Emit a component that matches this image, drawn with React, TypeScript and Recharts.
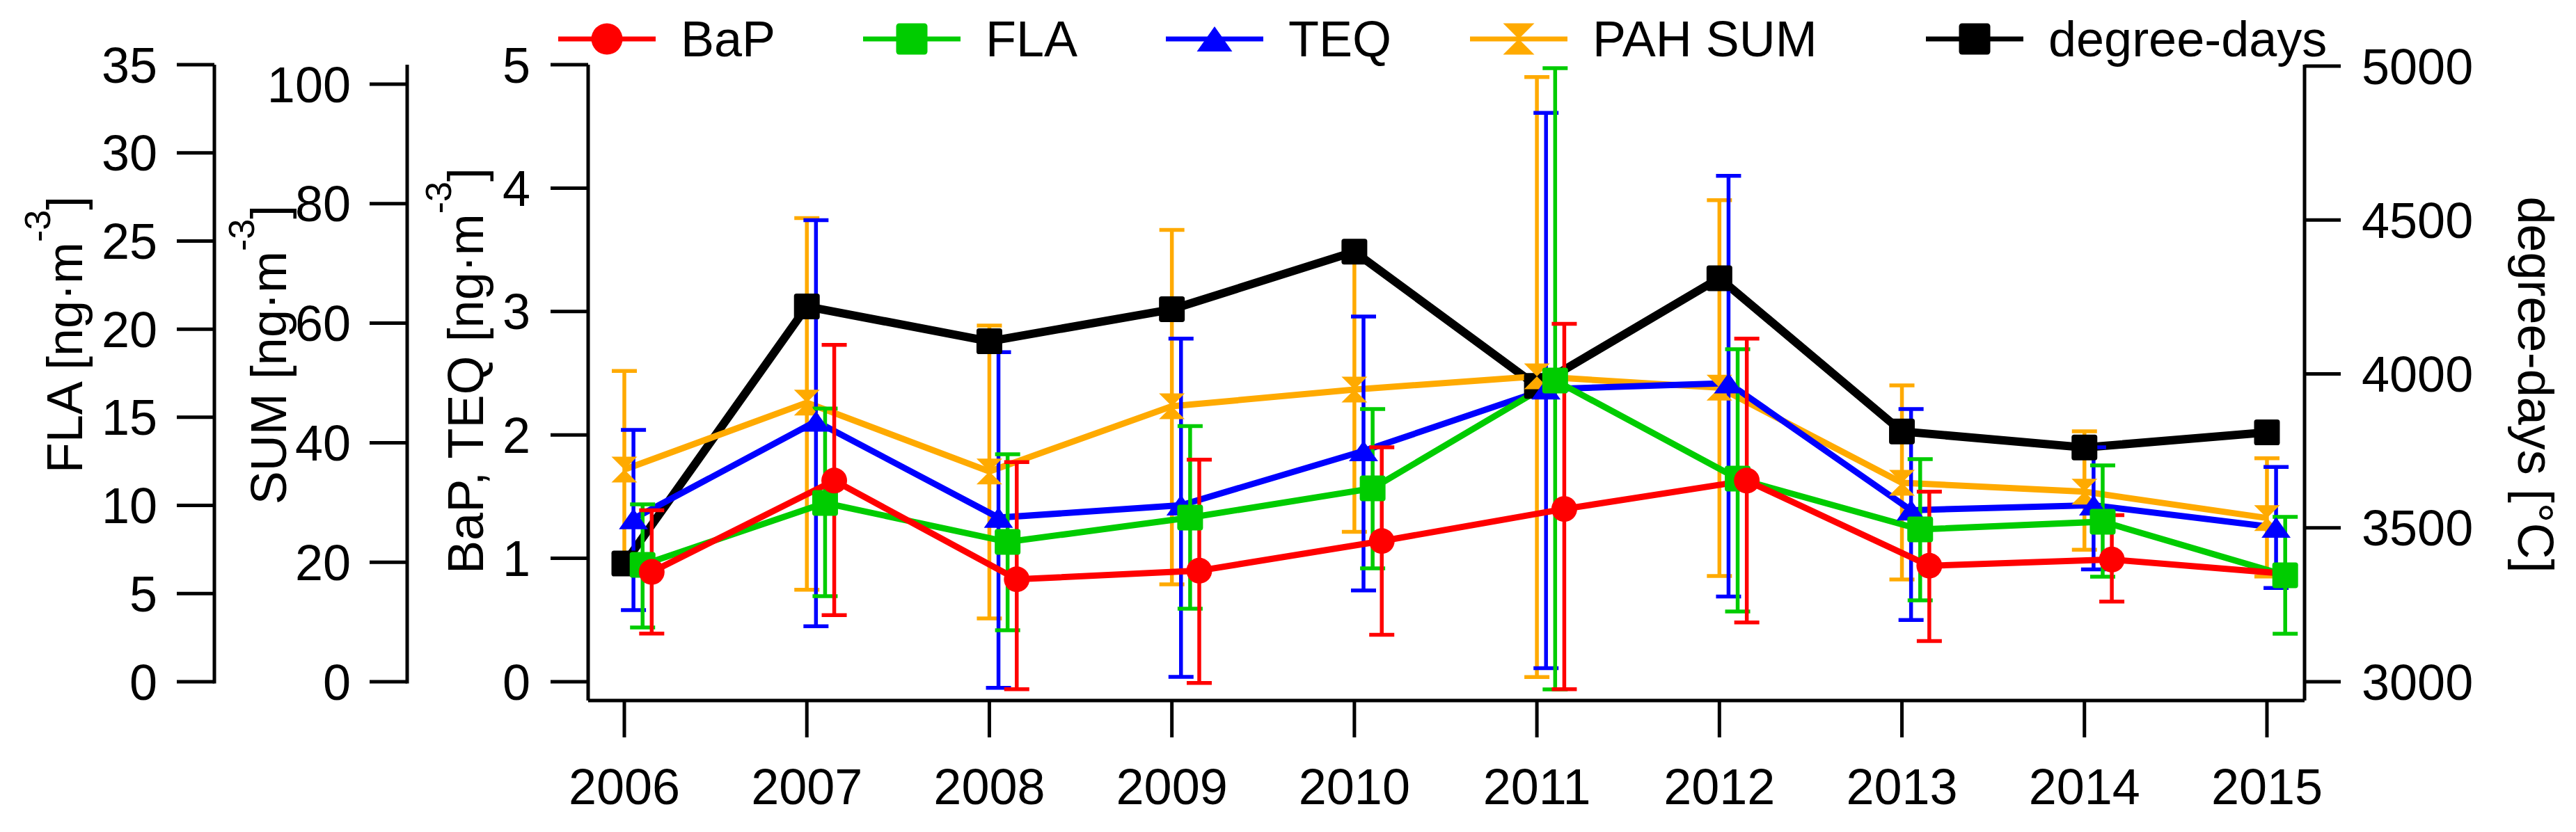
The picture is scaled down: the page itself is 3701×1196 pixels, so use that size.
import React from 'react';
import { ComposedChart, Line, XAxis, YAxis, ErrorBar } from 'recharts';

const W = 3701;
const H = 1196;
const PLOT_TOP = 93;
const FONT = '"Liberation Sans", Arial, sans-serif';

// categories
const years = [2006, 2007, 2008, 2009, 2010, 2011, 2012, 2013, 2014, 2015];

// BaP [ng/m3]: mean and error bar ends (last year has no bar)
const bapMean = [0.89, 1.63, 0.83, 0.9, 1.14, 1.4, 1.63, 0.94, 0.99, 0.87];
const bapLow = [0.39, 0.54, -0.06, -0.01, 0.38, -0.06, 0.48, 0.33, 0.65, null];
const bapHigh = [1.39, 2.73, 1.78, 1.8, 1.9, 2.9, 2.78, 1.54, 1.35, null];

// FLA [ng/m3]
const flaMean = [6.63, 10.14, 7.93, 9.31, 10.97, 17.09, 11.52, 8.64, 9.08, 6.04];
const flaLow = [3.08, 4.85, 2.92, 4.14, 6.43, -0.43, 3.99, 4.62, 5.96, 2.72];
const flaHigh = [10.06, 15.5, 12.9, 14.5, 15.47, 34.8, 18.86, 12.63, 12.27, 9.35];

// TEQ [ng/m3]
const teqMean = [1.32, 2.11, 1.33, 1.43, 1.87, 2.37, 2.42, 1.39, 1.43, 1.25];
const teqLow = [0.58, 0.45, -0.05, 0.04, 0.74, 0.11, 0.69, 0.5, 0.91, 0.76];
const teqHigh = [2.04, 3.74, 2.67, 2.78, 2.96, 4.61, 4.1, 2.21, 1.9, 1.74];

// PAH SUM [ng/m3]
const sumMean = [35.5, 46.7, 35.2, 46.1, 48.9, 51.1, 49.2, 33.3, 31.8, 27.4];
const sumLow = [19.2, 15.4, 10.6, 16.3, 25.1, 0.8, 17.7, 17.1, 22.1, 17.6];
const sumHigh = [52.0, 77.6, 59.6, 75.6, 72.8, 101.2, 80.6, 49.6, 41.9, 37.4];

// degree-days [°C]
const degreeDays = [3384, 4219, 4106, 4210, 4397, 3961, 4311, 3813, 3761, 3810];

// tick labels
const flaTicks = [0, 5, 10, 15, 20, 25, 30, 35];
const sumTicks = [0, 20, 40, 60, 80, 100];
const bapTicks = [0, 1, 2, 3, 4, 5];
const ddTicks = [3000, 3500, 4000, 4500, 5000];

type MarkerKind = 'circle' | 'square' | 'triangle' | 'hourglass';

interface SeriesDef {
  key: string;
  name: string;
  color: string;
  marker: MarkerKind;
  axis: string;
  shift: number;
  lineWidth: number;
  mean: number[];
  low?: (number | null)[];
  high?: (number | null)[];
}

// left axes get stacked outward from the plot in id order: L1 (BaP/TEQ), L2 (SUM), L3 (FLA)
const series: SeriesDef[] = [
  { key: 'dd', name: 'degree-days', color: '#000000', marker: 'square', axis: 'R1', shift: 0, lineWidth: 12, mean: degreeDays },
  { key: 'sum', name: 'PAH SUM', color: '#FFAA00', marker: 'hourglass', axis: 'L2', shift: 0, lineWidth: 9, mean: sumMean, low: sumLow, high: sumHigh },
  { key: 'teq', name: 'TEQ', color: '#0000FF', marker: 'triangle', axis: 'L1', shift: 0.05, lineWidth: 9, mean: teqMean, low: teqLow, high: teqHigh },
  { key: 'fla', name: 'FLA', color: '#00CC00', marker: 'square', axis: 'L3', shift: 0.1, lineWidth: 9, mean: flaMean, low: flaLow, high: flaHigh },
  { key: 'bap', name: 'BaP', color: '#FF0000', marker: 'circle', axis: 'L1', shift: 0.15, lineWidth: 9, mean: bapMean, low: bapLow, high: bapHigh },
];

const legendOrder = ['bap', 'fla', 'teq', 'sum', 'dd'];
const legendX = [802, 1240, 1675, 2112, 2767];

function buildData(s: SeriesDef) {
  return years.map((yr, i) => {
    const row: any = { x: yr + s.shift, v: s.mean[i] };
    if (s.low && s.high) {
      const lo = s.low[i];
      const hi = s.high[i];
      row.hasErr = lo != null && hi != null;
      if (row.hasErr) row.err = [s.mean[i] - (lo as number), (hi as number) - s.mean[i]];
    } else {
      row.hasErr = true;
    }
    return row;
  });
}

function Marker({ kind, cx, cy, color, size }: { kind: MarkerKind; cx: number; cy: number; color: string; size: number }) {
  const h = size / 2;
  if (kind === 'circle') return <circle cx={cx} cy={cy} r={h} fill={color} />;
  if (kind === 'square')
    return <rect x={cx - h} y={cy - h} width={size} height={size} rx={size * 0.1} fill={color} />;
  if (kind === 'triangle')
    return (
      <polygon
        points={`${cx},${cy - h * 0.8} ${cx + h * 1.13},${cy + h * 0.8} ${cx - h * 1.13},${cy + h * 0.8}`}
        fill={color}
      />
    );
  return (
    <path
      d={`M${cx - h},${cy - h} L${cx + h},${cy - h} L${cx - h},${cy + h} L${cx + h},${cy + h} Z`}
      fill={color}
    />
  );
}

const axisStroke = { stroke: '#000', strokeWidth: 5 };
const tickText = { fontSize: 72, fill: '#000', fontFamily: FONT };

// left tick that also draws the axis spine from the plot top down to zero
function makeLeftTick(tickSize: number, tickMargin: number) {
  return (props: any) => {
    const { x, y, payload } = props;
    const ax = x + tickMargin + tickSize;
    return (
      <g>
        <text x={x} y={y} dy="0.355em" textAnchor="end" fontSize={72} fontFamily={FONT} fill="#000">
          {payload.value}
        </text>
        {payload.value === 0 && (
          <line x1={ax} x2={ax} y1={PLOT_TOP} y2={y + 2.5} stroke="#000" strokeWidth={5} />
        )}
      </g>
    );
  };
}

function AxisTitle({ x, y, angle, main, sup, tail }: { x: number; y: number; angle: number; main: string; sup?: string; tail?: string }) {
  return (
    <text transform={`translate(${x},${y}) rotate(${angle})`} textAnchor="middle" fontSize={72} fontFamily={FONT} fill="#000">
      {main}
      {sup && (
        <tspan fontSize={52} dy={-46}>
          {sup}
        </tspan>
      )}
      {tail && (
        <tspan fontSize={72} dy={sup ? 46 : 0}>
          {tail}
        </tspan>
      )}
    </text>
  );
}

function Overlay() {
  return (
    <svg width={W} height={H} style={{ position: 'absolute', left: 0, top: 0, pointerEvents: 'none' }}>
      <AxisTitle x={118} y={481} angle={-90} main="FLA [ng·m" sup="-3" tail="]" />
      <AxisTitle x={411} y={510} angle={-90} main="SUM [ng·m" sup="-3" tail="]" />
      <AxisTitle x={694} y={533} angle={-90} main="BaP, TEQ [ng·m" sup="-3" tail="]" />
      <AxisTitle x={3618} y={553} angle={90} main="degree-days [°C]" />
      {legendOrder.map((k, i) => {
        const s = series.find(d => d.key === k)!;
        const x0 = legendX[i];
        return (
          <g key={k}>
            <line x1={x0} x2={x0 + 140} y1={56} y2={56} stroke={s.color} strokeWidth={7} />
            <Marker kind={s.marker} cx={x0 + 70} cy={56} color={s.color} size={45} />
            <text x={x0 + 176} y={55} dy="0.355em" fontSize={72} fontFamily={FONT} fill="#000">
              {s.name}
            </text>
          </g>
        );
      })}
    </svg>
  );
}

export default function App() {
  return (
    <div style={{ position: 'absolute', left: 0, top: 0, width: W, height: H, background: '#fff' }}>
      <ComposedChart width={W} height={H} margin={{ top: PLOT_TOP, right: 0, bottom: 0, left: 0 }}>
        <XAxis
          type="number"
          dataKey="x"
          domain={[2005.8017, 2015.206]}
          ticks={years}
          interval={0}
          allowDataOverflow
          height={189}
          tickSize={53}
          tickMargin={45}
          axisLine={axisStroke}
          tickLine={axisStroke}
          tick={tickText}
        />
        <YAxis
          yAxisId="L1"
          orientation="left"
          width={260}
          domain={[-0.1522, 5]}
          ticks={bapTicks}
          interval={0}
          allowDataOverflow
          axisLine={axisStroke}
          tickLine={axisStroke}
          tickSize={54}
          tickMargin={29}
          tick={tickText}
        />
        <YAxis
          yAxisId="L2"
          orientation="left"
          width={277}
          domain={[-3.143, 103.26]}
          ticks={sumTicks}
          interval={0}
          allowDataOverflow
          axisLine={false}
          tickLine={axisStroke}
          tickSize={54}
          tickMargin={27}
          tick={makeLeftTick(54, 27)}
        />
        <YAxis
          yAxisId="L3"
          orientation="left"
          width={308}
          domain={[-1.0654, 35]}
          ticks={flaTicks}
          interval={0}
          allowDataOverflow
          axisLine={false}
          tickLine={axisStroke}
          tickSize={54}
          tickMargin={28}
          tick={makeLeftTick(54, 28)}
        />
        <YAxis
          yAxisId="R1"
          orientation="right"
          width={390}
          domain={[2939, 5004.5]}
          ticks={ddTicks}
          interval={0}
          allowDataOverflow
          axisLine={axisStroke}
          tickLine={axisStroke}
          tickSize={52}
          tickMargin={30}
          tick={tickText}
        />
        {series.map(s => (
          <Line
            key={s.key}
            data={buildData(s)}
            dataKey="v"
            yAxisId={s.axis}
            type="linear"
            stroke={s.color}
            strokeWidth={s.lineWidth}
            isAnimationActive={false}
            activeDot={false}
            dot={(p: any) =>
              p.payload.hasErr ? (
                <Marker key={`${s.key}-${p.index}`} kind={s.marker} cx={p.cx} cy={p.cy} color={s.color} size={37} />
              ) : (
                <g key={`${s.key}-${p.index}`} />
              )
            }
          >
            {s.low && (
              <ErrorBar dataKey="err" direction="y" width={18} stroke={s.color} strokeWidth={5.5} isAnimationActive={false} />
            )}
          </Line>
        ))}
      </ComposedChart>
      <Overlay />
    </div>
  );
}
